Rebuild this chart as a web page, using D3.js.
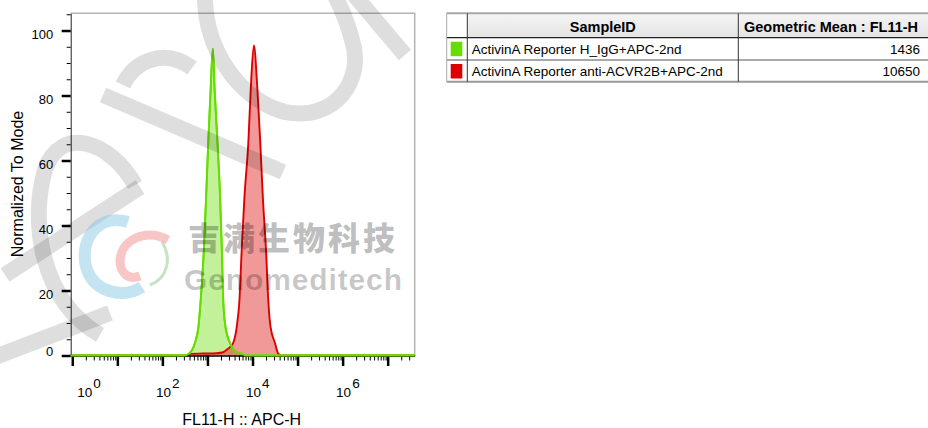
<!DOCTYPE html>
<html>
<head>
<meta charset="utf-8">
<script src="https://cdn.jsdelivr.net/npm/d3@7"></script>
<style>
  body { margin: 0; background: #fff; }
  svg { display: block; font-family: "Liberation Sans", Arial, sans-serif; }
</style>
</head>
<body>
<div id="chart"></div>
<script>
// histogram bins (APC-H intensity, % of mode)
const greenX = [316, 372, 447, 525, 631, 708, 832, 933, 1047, 1175, 1318, 1445, 1660, 1905, 2089, 2239, 2512, 3162, 3981, 5623, 7413];
const greenY = [0, 0.4, 1.5, 3.8, 8.8, 17, 32.4, 48.5, 66.2, 81.6, 94.4, 81.6, 66.2, 49, 32.4, 17, 8.8, 3.8, 1.5, 0.6, 0];
const redX = [355, 417, 794, 1585, 2239, 2692, 3162, 3715, 4467, 5129, 5754, 6607, 8128, 9120, 10715, 12882, 14791, 16982, 19953, 22387, 25119, 31623, 37154, 44668];
const redY = [0, 0.5, 0.6, 0.7, 1.0, 1.8, 2.6, 3.8, 8.8, 17, 32.4, 48.5, 66.2, 81.6, 95.4, 81.6, 66.2, 48.5, 32.4, 17, 8.8, 3.8, 0.6, 0];

const sampleIds = ["ActivinA Reporter H_IgG+APC-2nd", "ActivinA Reporter anti-ACVR2B+APC-2nd"];
const geoMeans = ["1436", "10650"];
const sampleColors = ["#66dd00", "#dd0000"];

const yMajor = [0, 20, 40, 60, 80, 100];
const yMinor = [5, 10, 15, 25, 30, 35, 45, 50, 55, 65, 70, 75, 85, 90, 95, 105];
const xExponents = [0, 1, 2, 3, 4, 5, 6, 7];
const xLabelExponents = [0, 2, 4, 6];
const xDomain = [0.9226, 3.98e7];

const width = 928, height = 428;

const svg = d3.select("#chart")
  .append("svg")
  .attr("width", width)
  .attr("height", height);

const x = d3.scaleLog().domain(xDomain).range([70.7, 414.7]);
const y = d3.scaleLinear().domain([0, 105.3]).range([355.5, 13.3]);

// frame (top / right)
svg.append("path")
  .attr("d", `M${x.range()[0]},${y(105.3)}H${x.range()[1]}V${y(0)}`)
  .attr("fill", "none")
  .attr("stroke", "#b4b4b4")
  .attr("stroke-width", 1.5);

// histograms
const area = d3.area()
  .x(d => x(d[0]))
  .y0(y(0))
  .y1(d => y(d[1]))
  .curve(d3.curveMonotoneX);
const line = d3.line()
  .x(d => x(d[0]))
  .y(d => y(d[1]))
  .curve(d3.curveMonotoneX);

const series = [
  { color: sampleColors[0], pts: greenX.map((v, i) => [v, greenY[i]]) },
  { color: sampleColors[1], pts: redX.map((v, i) => [v, redY[i]]) }
];
series.forEach(s => {
  s.pts = [[xDomain[0], 0]].concat(s.pts, [[xDomain[1], 0]]);
});

svg.selectAll(".fill")
  .data(series)
  .enter()
  .append("path")
  .attr("class", "fill")
  .attr("d", d => area(d.pts))
  .attr("fill", d => d.color)
  .attr("fill-opacity", 0.4);

// red outline first so the green baseline sits on top
svg.selectAll(".outline")
  .data(series.slice().reverse())
  .enter()
  .append("path")
  .attr("class", "outline")
  .attr("d", d => line(d.pts))
  .attr("fill", "none")
  .attr("stroke", d => d.color)
  .attr("stroke-width", 1.9);

// y axis
const yAxis = svg.append("g")
  .attr("transform", `translate(${x.range()[0]},0)`)
  .call(d3.axisLeft(y).tickValues(yMajor).tickSize(9).tickSizeOuter(0).tickPadding(8.4));
yAxis.select(".domain").attr("stroke", "#222");
yAxis.selectAll(".tick line").attr("stroke-width", 2.5);
yAxis.selectAll(".tick text")
  .style("font-size", "13px")
  .attr("font-family", "'Liberation Sans', Arial, sans-serif")
  .attr("dy", d => d === 0 ? "0" : "0.59em");

svg.append("g")
  .attr("transform", `translate(${x.range()[0]},0)`)
  .call(d3.axisLeft(y).tickValues(yMinor).tickSize(4).tickFormat(""))
  .select(".domain").remove();

// x axis
const xMajor = xExponents.map(e => Math.pow(10, e));
const xMinor = [];
xExponents.forEach(e => {
  for (let k = 2; k <= 9; k++) {
    const v = k * Math.pow(10, e);
    if (v < xDomain[1]) xMinor.push(v);
  }
});

svg.append("g")
  .attr("transform", `translate(0,${y(0)})`)
  .call(d3.axisBottom(x).tickValues(xMinor).tickSize(5).tickFormat("").tickSizeOuter(0))
  .select(".domain").remove();

const xAxis = svg.append("g")
  .attr("transform", `translate(0,${y(0)})`)
  .call(d3.axisBottom(x).tickValues(xMajor).tickSize(10.5).tickFormat("").tickSizeOuter(0));
xAxis.selectAll(".tick line").attr("stroke-width", 2.5);
xAxis.select(".domain").attr("stroke-width", 1.5);

// redraw green baseline above the axis line
svg.append("path")
  .attr("d", line(series[0].pts))
  .attr("fill", "none")
  .attr("stroke", sampleColors[0])
  .attr("stroke-width", 1.9);

const xLabels = svg.selectAll(".xlabel")
  .data(xLabelExponents)
  .enter()
  .append("text")
  .attr("class", "xlabel")
  .attr("x", e => Math.max(x(Math.pow(10, e)) - 6.5, x.range()[0] + 6.6))
  .attr("y", 397)
  .style("font-size", "13.5px")
  .attr("fill", "#000");
xLabels.append("tspan").text("10");
xLabels.append("tspan").attr("dy", -9).attr("dx", 1).text(e => e);

svg.append("text")
  .attr("x", (x.range()[0] + x.range()[1]) / 2 - 1)
  .attr("y", 425)
  .attr("text-anchor", "middle")
  .style("font-size", "16px")
  .text("FL11-H :: APC-H");

svg.append("text")
  .attr("transform", "translate(23,184) rotate(-90)")
  .attr("text-anchor", "middle")
  .style("font-size", "16px")
  .text("Normalized To Mode");

// statistics table
const colX = [446.7, 467.3, 738.3, 928];
const rowY = [13.3, 37.7, 60, 81.7];
const table = svg.append("g");

const grad = svg.append("defs").append("linearGradient")
  .attr("id", "hdr").attr("x1", 0).attr("y1", 0).attr("x2", 0).attr("y2", 1);
grad.append("stop").attr("offset", 0).attr("stop-color", "#f5f5f5");
grad.append("stop").attr("offset", 1).attr("stop-color", "#e3e3e3");

table.append("rect")
  .attr("x", colX[1]).attr("y", rowY[0])
  .attr("width", colX[3] - colX[1]).attr("height", rowY[1] - rowY[0])
  .attr("fill", "url(#hdr)");

table.selectAll(".swatch")
  .data(sampleColors)
  .enter()
  .append("rect")
  .attr("x", 450.7)
  .attr("y", (d, i) => rowY[i + 1] + 4)
  .attr("width", 11.6)
  .attr("height", 14.5)
  .attr("fill", d => d);

table.append("line")
  .attr("x1", colX[0]).attr("x2", colX[3]).attr("y1", rowY[0]).attr("y2", rowY[0])
  .attr("stroke", "#a8a8a8").attr("stroke-width", 2);
table.append("line")
  .attr("x1", colX[0]).attr("x2", colX[3]).attr("y1", rowY[1]).attr("y2", rowY[1])
  .attr("stroke", "#222").attr("stroke-width", 1.2);
table.append("line")
  .attr("x1", colX[0]).attr("x2", colX[3]).attr("y1", rowY[2]).attr("y2", rowY[2])
  .attr("stroke", "#555").attr("stroke-width", 1);
table.append("line")
  .attr("x1", colX[0]).attr("x2", colX[3]).attr("y1", rowY[3]).attr("y2", rowY[3])
  .attr("stroke", "#999").attr("stroke-width", 2);
table.append("line")
  .attr("x1", colX[0]).attr("x2", colX[0]).attr("y1", rowY[0]).attr("y2", rowY[3])
  .attr("stroke", "#aaa").attr("stroke-width", 1);
[colX[1], colX[2]].forEach(cx => {
  table.append("line")
    .attr("x1", cx).attr("x2", cx).attr("y1", rowY[0]).attr("y2", rowY[3])
    .attr("stroke", "#333").attr("stroke-width", 1);
});

table.append("text")
  .attr("x", (colX[1] + colX[2]) / 2).attr("y", 32)
  .attr("text-anchor", "middle")
  .style("font-size", "14.5px").style("font-weight", "bold")
  .text("SampleID");
table.append("text")
  .attr("x", 831).attr("y", 32)
  .attr("text-anchor", "middle")
  .style("font-size", "14.5px").style("font-weight", "bold")
  .text("Geometric Mean : FL11-H");

table.selectAll(".sid")
  .data(sampleIds)
  .enter()
  .append("text")
  .attr("x", 471.7)
  .attr("y", (d, i) => rowY[i + 2] - 6)
  .style("font-size", "13.5px")
  .text(d => d);
table.selectAll(".gm")
  .data(geoMeans)
  .enter()
  .append("text")
  .attr("x", 920)
  .attr("y", (d, i) => rowY[i + 2] - 6)
  .attr("text-anchor", "end")
  .style("font-size", "13.5px")
  .text(d => d);

// watermark
const wm = svg.append("g").attr("pointer-events", "none");
const strokes = [
  "M205,-10 C203,50 240,100 285,112 C335,122 365,80 352,40 C347,20 340,5 332,-10",
  "M350,-10 L405,55",
  "M103,95 L283,172",
  "M123,85 C135,60 165,48 192,68",
  "M135,185 C110,140 60,125 45,170 C30,220 40,300 100,335",
  "M5,275 L140,187",
  "M-5,357 L110,313"
];
wm.selectAll(".wstroke")
  .data(strokes)
  .enter()
  .append("path")
  .attr("d", d => d)
  .attr("fill", "none")
  .attr("stroke", "#000")
  .attr("stroke-opacity", 0.13)
  .attr("stroke-width", 16);

wm.append("path")
  .attr("d", "M128,222 C95,212 78,245 87,270 C96,294 125,298 142,287")
  .attr("fill", "none").attr("stroke", "#7cc4e2").attr("stroke-opacity", 0.45).attr("stroke-width", 12);
wm.append("path")
  .attr("d", "M168,240 C145,228 120,240 120,262 C121,275 130,280 140,276")
  .attr("fill", "none").attr("stroke", "#f07070").attr("stroke-opacity", 0.4).attr("stroke-width", 9);
wm.append("path")
  .attr("d", "M162,242 C172,258 168,278 150,285")
  .attr("fill", "none").attr("stroke", "#8cc88c").attr("stroke-opacity", 0.5).attr("stroke-width", 3);

wm.append("text")
  .attr("x", 188).attr("y", 250)
  .attr("textLength", 207)
  .attr("font-family", "'Noto Sans CJK SC', sans-serif")
  .style("font-size", "32px").style("font-weight", "900")
  .attr("fill", "#000").attr("fill-opacity", 0.27)
  .text("吉满生物科技");
wm.append("text")
  .attr("x", 184).attr("y", 290)
  .attr("textLength", 218)
  .style("font-size", "30px").style("font-weight", "bold")
  .attr("fill", "#000").attr("fill-opacity", 0.22)
  .text("Genomeditech");
</script>
</body>
</html>
